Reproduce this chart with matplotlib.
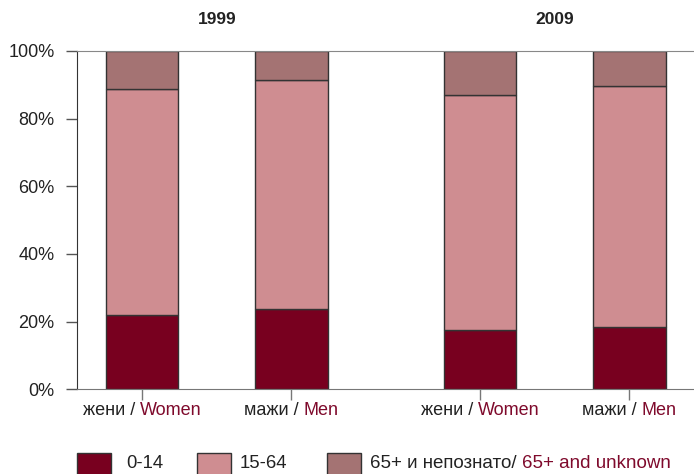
import numpy as np
import matplotlib
matplotlib.use('Agg')
import matplotlib.pyplot as plt
from matplotlib.patches import Rectangle
from matplotlib.offsetbox import TextArea, HPacker, AnnotationBbox

plt.rcParams['font.family'] = ['Liberation Sans', 'DejaVu Sans']

# data (percent of total)
years = ['1999', '2009']
groups_mk = ['жени / ', 'мажи / ', 'жени / ', 'мажи / ']
groups_en = ['Women', 'Men', 'Women', 'Men']
age_0_14 = [22.0, 23.6, 17.4, 18.5]
age_15_64 = [66.9, 67.7, 69.7, 71.2]
age_65 = [11.1, 8.7, 12.9, 10.3]

pos = np.array([0, 1, 2.265, 3.265])
c_dark = '#78001f'
c_pink = '#cf8d91'
c_mauve = '#a47373'
c_red_txt = '#7f0a2c'
edge = '#333333'

W, H = 694, 474
fig = plt.figure(figsize=(W/100, H/100), dpi=100)
ax = fig.add_axes([76.7/W, 84.7/H, (W-76.7)/W, 338.3/H])

b1 = np.array(age_0_14)
b2 = b1 + np.array(age_15_64)
ax.bar(pos, age_0_14, width=0.485, color=c_dark, edgecolor=edge, linewidth=1)
ax.bar(pos, age_15_64, bottom=b1, width=0.485, color=c_pink, edgecolor=edge, linewidth=1)
ax.bar(pos, age_65, bottom=b2, width=0.485, color=c_mauve, edgecolor=edge, linewidth=1)

ax.set_xlim(-0.439, 3.698)
ax.set_ylim(0, 100)
ax.set_yticks(range(0, 101, 20))
ax.set_yticklabels([str(v) + '%' for v in range(0, 101, 20)], fontsize=13, color='#222222')
ax.set_xticks(pos)
ax.set_xticklabels([])
ax.tick_params(axis='y', length=8, width=1, color='#555555', pad=8)
ax.tick_params(axis='x', length=8, width=1, color='#777777')
ax.spines['right'].set_visible(False)
ax.spines['left'].set_color('#333333')
ax.spines['bottom'].set_color('#777777')
ax.spines['top'].set_color('#888888')

# two-colour category labels
for x, mk, en in zip(pos, groups_mk, groups_en):
    box = HPacker(children=[TextArea(mk, textprops=dict(fontsize=13, color='#222222')),
                            TextArea(en, textprops=dict(fontsize=13, color=c_red_txt))],
                  align='baseline', pad=0, sep=0)
    ab = AnnotationBbox(box, (x, 0), xybox=(0, -21), xycoords='data',
                        boxcoords='offset pixels', box_alignment=(0.5, 0.5),
                        frameon=False, pad=0, annotation_clip=False)
    ax.add_artist(ab)

# year headers
for i, yr in enumerate(years):
    xm = (pos[2*i] + pos[2*i+1]) / 2
    ax.text(xm, 1.092, yr, transform=ax.get_xaxis_transform(), ha='center', va='center',
            fontsize=12.5, fontweight='bold', color='#222222')

# legend drawn by hand
leg_x = [76.7, 197, 326.7]
leg_cols = [c_dark, c_pink, c_mauve]
for lx, col in zip(leg_x, leg_cols):
    fig.add_artist(Rectangle((lx/W, -4/H), 34/W, 25/H, transform=fig.transFigure,
                             facecolor=col, edgecolor=edge, linewidth=1))
fig.text((76.7+50)/W, 10/H, '0-14', fontsize=13.3, va='center', color='#222222')
fig.text((197+43)/W, 10/H, '15-64', fontsize=13.3, va='center', color='#222222')
lbox = HPacker(children=[TextArea('65+ и непознато/ ', textprops=dict(fontsize=13.5, color='#222222')),
                         TextArea('65+ and unknown', textprops=dict(fontsize=13.5, color=c_red_txt))],
               align='baseline', pad=0, sep=0)
fig.add_artist(AnnotationBbox(lbox, (370, 10), xycoords='figure pixels', box_alignment=(0, 0.5),
                              frameon=False, pad=0, annotation_clip=False))

fig.savefig('out.png', dpi=100)
